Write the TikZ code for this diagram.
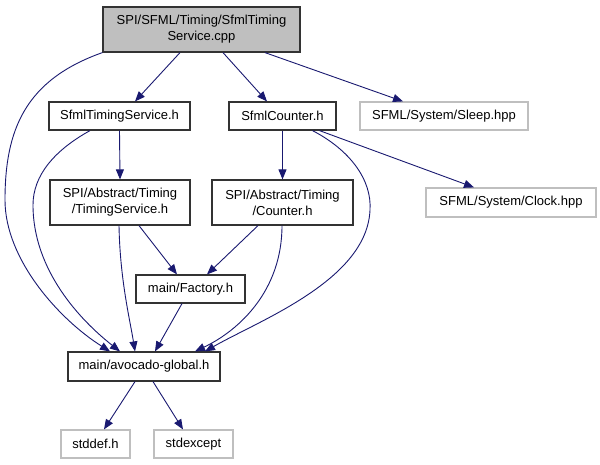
\documentclass[tikz,border=0pt]{standalone}
\usepackage{fontspec}
\setmainfont{Liberation Sans}
\usetikzlibrary{arrows.meta}
\definecolor{edgeblue}{HTML}{191970}
\definecolor{grayfill}{HTML}{BFBFBF}
\definecolor{grayline}{HTML}{BFBFBF}
\begin{document}
\begin{tikzpicture}[x=1pt,y=-1pt,
  box/.style={draw=black!80,line width=1.2pt,inner sep=0pt,align=center,font=\fontsize{13}{16}\selectfont},
  ext/.style={box,draw=grayline},
  dep/.style={draw=edgeblue,line width=0.9pt,-{Triangle[length=10pt,width=8pt]}}]
\useasboundingbox (0,0) rectangle (600,464);
\node[box,fill=grayfill,minimum width=197pt,minimum height=45pt] (top) at (201.5,29.5) {SPI/SFML/Timing/SfmlTiming\\Service.cpp};
\node[box,minimum width=141pt,minimum height=28pt] (sts) at (119.5,116) {SfmlTimingService.h};
\node[box,minimum width=107pt,minimum height=28pt] (sc) at (282.5,116) {SfmlCounter.h};
\node[ext,minimum width=168pt,minimum height=28pt] (sleep) at (444,116) {SFML/System/Sleep.hpp};
\node[box,minimum width=140pt,minimum height=45pt] (ts) at (120,202.5) {SPI/Abstract/Timing\\/TimingService.h};
\node[box,minimum width=141pt,minimum height=45pt] (cnt) at (282.5,202.5) {SPI/Abstract/Timing\\/Counter.h};
\node[ext,minimum width=170pt,minimum height=29pt] (clock) at (511,202.5) {SFML/System/Clock.hpp};
\node[box,minimum width=109pt,minimum height=28pt] (fac) at (190.5,289) {main/Factory.h};
\node[box,minimum width=152pt,minimum height=29pt] (avo) at (144,366.5) {main/avocado-global.h};
\node[ext,minimum width=69pt,minimum height=28pt] (stddef) at (95.5,444) {stddef.h};
\node[ext,minimum width=79pt,minimum height=28pt] (stdexcept) at (193.5,444) {stdexcept};

\draw[dep] ([xshift=-21.5pt]top.south) -- ([xshift=15.5pt]sts.north);
\draw[dep] ([xshift=21.5pt]top.south) -- ([xshift=-15.5pt]sc.north);
\draw[dep] ([xshift=63.5pt]top.south) -- ([xshift=-41pt]sleep.north);
\draw[dep] (top.south west) .. controls (25,80) and (5,130) .. (5,200) .. controls (5,260) and (60,320) .. ([xshift=-34pt]avo.north);
\draw[dep] ([xshift=-29.5pt]sts.south) .. controls (55,150) and (33,175) .. (33,205) .. controls (33,270) and (80,320) .. ([xshift=-24pt]avo.north);
\draw[dep] (sts.south) -- (ts.north);
\draw[dep] (sc.south) -- (cnt.north);
\draw[dep] ([xshift=37pt]sc.south) -- ([xshift=-37pt]clock.north);
\draw[dep] ([xshift=30pt]sc.south) .. controls (350,150) and (372,180) .. (370,210) .. controls (367,280) and (260,320) .. ([xshift=61pt]avo.north);
\draw[dep] ([xshift=-1pt]ts.south) .. controls (120,280) and (130,320) .. ([xshift=-9pt]avo.north);
\draw[dep] ([xshift=19pt]ts.south) -- ([xshift=-13.5pt]fac.north);
\draw[dep] ([xshift=-24.5pt]cnt.south) -- ([xshift=16.5pt]fac.north);
\draw[dep] ([xshift=-0.5pt]cnt.south) .. controls (282,290) and (240,330) .. ([xshift=51pt]avo.north);
\draw[dep] ([xshift=-8.5pt]fac.south) -- ([xshift=11pt]avo.north);
\draw[dep] ([xshift=-9pt]avo.south) -- ([xshift=8.5pt]stddef.north);
\draw[dep] ([xshift=9pt]avo.south) -- ([xshift=-10.5pt]stdexcept.north);
\end{tikzpicture}
\end{document}
